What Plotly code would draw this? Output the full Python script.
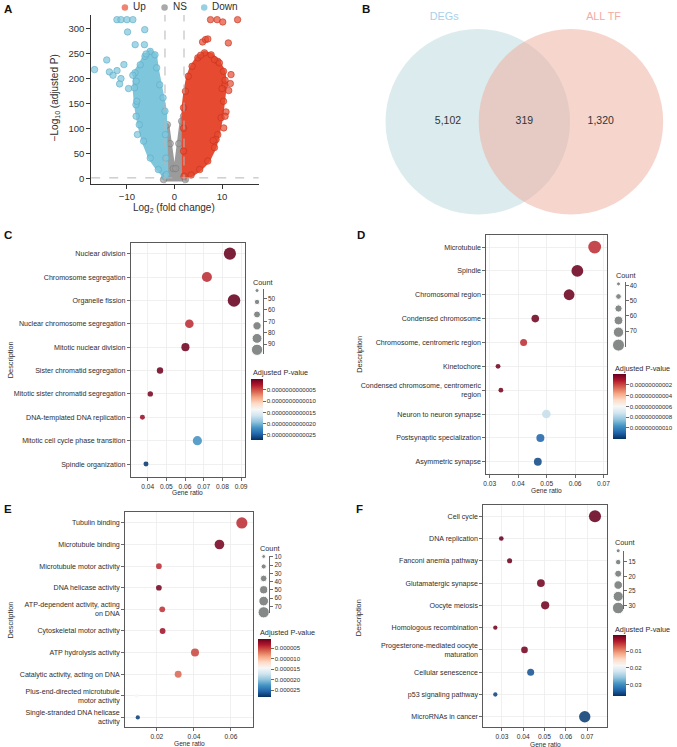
import math
import plotly.graph_objects as go

W, H = 677, 747
FONT = "Liberation Sans, Arial, Helvetica, sans-serif"
INK = "#2e2e2e"


def fx(p):
    return p / W


def fy(p):
    return 1 - p / H


# ---------------- Panel A : volcano (outline of the dense clouds + isolated genes) ----------------
fc_cut = 2
p_cut = 0.05

ns_env_x = [-2.3, -2.2, -1.9, -1.5, -0.9, -0.25, 0.25, 0.9, 1.5, 1.9, 2.2, 2.3]
ns_env_y = [-2, 50, 105, 108, 70, 20, 20, 70, 115, 125, 60, -2]

down_env_x = [-2.0, -3.4, -5.1, -6.5, -7.4, -8.1, -8.4, -8.3, -7.2, -6.2, -5.1, -4.1, -3.75, -3.1, -2.4, -2.0, -1.9, -1.8, -1.7]
down_env_y = [4.7, 18, 41, 75, 108, 148, 182, 212, 228, 245, 255, 248, 222, 188, 162, 135, 88, 41, 8]
down_pts_x = [-12.1, -11.25, -10.0, -8.75, -9.86, -6.25, -8.26, -6.32, -5.97, -14.24, -16.8, -13.68,
              -12.08, -12.92, -11.25, -11.53, -10.63, -9.65, -8.75, -8.06, -7.92, -8.06, -7.78]
down_pts_y = [318.6, 318.6, 318.6, 318.6, 293.9, 298.6, 268.5, 268.5, 249.8, 237.8, 218.4, 213.8,
              216.4, 207.1, 200.4, 189.7, 228.5, 180.4, 207.1, 195.1, 155, 124.9, 88.2]

up_env_x = [2.0, 1.9, 1.9, 1.9, 2.3, 2.9, 3.7, 4.9, 6.3, 7.7, 9.1, 10.3, 10.6, 10.3, 9.8, 9.1, 8.4, 7.0, 5.3, 3.5]
up_env_y = [4.7, 55, 101, 142, 175, 205, 225, 242, 252, 248, 235, 215, 188, 155, 122, 88, 62, 35, 18, 7]
up_pts_x = [7.57, 8.96, 13.26, 10.14, 5.90, 6.53, 7.01, 11.32, 5.49, 8.40, 9.44, 11.88, 10.63, 11.74,
            11.39, 10.0, 10.83, 10.63, 10.35, 8.75, 8.13]
up_pts_y = [318.6, 318.6, 318.6, 314, 273.9, 278.6, 279.9, 271.9, 247.2, 238.5, 231.8, 208.4, 197.1,
            190.4, 176.4, 180.4, 133.6, 124.9, 101.5, 78.2, 76.2]

volcano_groups = ["Up", "NS", "Down"]

# ---------------- Panel B : Venn ----------------
venn_sets = ["DEGs", "ALL TF"]
venn_counts = [5102, 319, 1320]   # only DEGs, both, only ALL TF

# ---------------- Panel C : GO BP ----------------
c_terms = ["Nuclear division", "Chromosome segregation", "Organelle fission",
           "Nuclear chromosome segregation", "Mitotic nuclear division", "Sister chromatid segregation",
           "Mitotic sister chromatid segregation", "DNA-templated DNA replication",
           "Mitotic cell cycle phase transition", "Spindle organization"]
c_ratio = [0.0840, 0.0717, 0.0862, 0.0623, 0.0602, 0.0466, 0.0414, 0.0372, 0.0666, 0.0391]
c_count = [101, 86, 104, 76, 72, 60, 53, 50, 80, 50]
c_padj = [2e-14, 3.6e-13, 2e-14, 3.6e-13, 5e-14, 5e-14, 8e-14, 2.0e-13, 2.18e-12, 2.67e-12]
c_cb_ticks = [5e-13, 1e-12, 1.5e-12, 2e-12, 2.5e-12]
c_cb_text = ["0.0000000000005", "0.0000000000010", "0.0000000000015", "0.0000000000020", "0.0000000000025"]
c_leg_counts = [43, 53, 64, 74, 85, 95]
c_leg_ticks = [50, 60, 70, 80, 90]

# ---------------- Panel D : GO CC ----------------
d_terms = ["Microtubule", "Spindle", "Chromosomal region", "Condensed chromosome",
           "Chromosome, centromeric region", "Kinetochore", "Condensed chromosome, centromeric<br>region",
           "Neuron to neuron synapse", "Postsynaptic specialization", "Asymmetric synapse"]
d_ratio = [0.0669, 0.0608, 0.0579, 0.0460, 0.0419, 0.0329, 0.0339, 0.0499, 0.0478, 0.0469]
d_count = [83, 78, 73, 57, 54, 43, 43, 62, 59, 58]
d_padj = [1.6e-11, 1e-12, 1e-12, 2e-12, 1.6e-11, 2e-12, 3e-12, 7.5e-11, 1.09e-10, 1.15e-10]
d_cb_ticks = [2e-11, 4e-11, 6e-11, 8e-11, 1e-10]
d_cb_text = ["0.00000000002", "0.00000000004", "0.00000000006", "0.00000000008", "0.00000000010"]
d_leg_counts = [38.9, 47.2, 55.1, 63.0, 70.7, 79.2]
d_leg_ticks = [40, 50, 60, 70]

# ---------------- Panel E : GO MF ----------------
e_terms = ["Tubulin binding", "Microtubule binding", "Microtubule motor activity", "DNA helicase activity",
           "ATP-dependent activity, acting<br>on DNA", "Cytoskeletal motor activity", "ATP hydrolysis activity",
           "Catalytic activity, acting on DNA", "Plus-end-directed microtubule<br>motor activity",
           "Single-stranded DNA helicase<br>activity"]
e_ratio = [0.0659, 0.0538, 0.0211, 0.0211, 0.0229, 0.0231, 0.0406, 0.0315, 0.0091, 0.0097]
e_count = [77, 63, 27, 27, 28, 28, 48, 38, 11, 14]
e_padj = [4.0e-6, 9.4e-7, 4.0e-6, 1e-6, 4.2e-6, 2.6e-6, 5.0e-6, 6.3e-6, 1.43e-5, 2.74e-5]
e_cb_ticks = [5e-6, 1e-5, 1.5e-5, 2e-5, 2.5e-5]
e_cb_text = ["0.000005", "0.000010", "0.000015", "0.000020", "0.000025"]
e_leg_counts = [9.6, 21.7, 36.2, 49.9, 63.6, 77.2]
e_leg_ticks = [10, 20, 30, 40, 50, 60, 70]

# ---------------- Panel F : KEGG ----------------
f_terms = ["Cell cycle", "DNA replication", "Fanconi anemia pathway", "Glutamatergic synapse", "Oocyte meiosis",
           "Homologous recombination", "Progesterone-mediated oocyte<br>maturation", "Cellular senescence",
           "p53 signaling pathway", "MicroRNAs in cancer"]
f_ratio = [0.0737, 0.0297, 0.0336, 0.0483, 0.0503, 0.0269, 0.0406, 0.0435, 0.0269, 0.0689]
f_count = [32, 13, 14, 21, 22, 12, 18, 19, 12, 30]
f_padj = [0.0005, 0.0006, 0.0008, 0.001, 0.001, 0.0008, 0.0012, 0.0345, 0.0355, 0.036]
f_cb_ticks = [0.01, 0.02, 0.03]
f_cb_text = ["0.01", "0.02", "0.03"]
f_leg_counts = [11.2, 15.1, 19.1, 23.0, 26.9, 30.9]
f_leg_ticks = [15, 20, 25, 30]

CS = [[0.0, "#053061"], [0.1, "#2166ac"], [0.2, "#4393c3"], [0.3, "#92c5de"], [0.4, "#d1e5f0"],
      [0.5, "#f7f7f7"], [0.6, "#fddbc7"], [0.7, "#f4a582"], [0.8, "#d6604d"], [0.9, "#b2182b"],
      [1.0, "#67001f"]]

fig = go.Figure()
layout = dict(width=W, height=H, margin=dict(l=0, r=0, t=0, b=0), paper_bgcolor="white",
              plot_bgcolor="white", showlegend=False, font=dict(family=FONT, color=INK))
annotations = []
shapes = []


def note(text, x, y, size, xanchor="center", angle=0, color=INK, bold=False):
    if bold:
        text = "<b>" + text + "</b>"
    annotations.append(dict(text=text, x=fx(x), y=fy(y), xref="paper", yref="paper", showarrow=False,
                            xanchor=xanchor, yanchor="middle", textangle=angle,
                            font=dict(size=size, color=color, family=FONT)))


# ----- Panel A -----
cloud_style = {
    "NS": ("rgb(155,155,155)", "rgba(155,155,155,0.65)", "rgba(120,120,120,0.8)"),
    "Down": ("rgb(126,198,220)", "rgba(126,198,220,0.7)", "rgba(95,170,198,0.85)"),
    "Up": ("rgb(230,74,48)", "rgba(230,74,48,0.7)", "rgba(196,50,30,0.85)"),
}
for name, ex, ey, px_, py_ in [("NS", ns_env_x, ns_env_y, [], []),
                               ("Down", down_env_x, down_env_y, down_pts_x, down_pts_y),
                               ("Up", up_env_x, up_env_y, up_pts_x, up_pts_y)]:
    fillc, mc, lc = cloud_style[name]
    fig.add_trace(go.Scatter(x=ex + [ex[0]], y=ey + [ey[0]], mode="lines", fill="toself", fillcolor=fillc,
                             line=dict(color=fillc, width=4), xaxis="x", yaxis="y", hoverinfo="skip"))
    fig.add_trace(go.Scatter(x=ex + px_, y=ey + py_, mode="markers", xaxis="x", yaxis="y",
                             marker=dict(size=6.5, color=mc, line=dict(color=lc, width=0.7)),
                             cliponaxis=False))

ythr = -math.log10(p_cut)
shapes += [
    dict(type="line", xref="x", yref="y domain", x0=-fc_cut, x1=-fc_cut, y0=0, y1=1,
         line=dict(color="#b5b5b5", width=1, dash="dash"), layer="above"),
    dict(type="line", xref="x", yref="y domain", x0=fc_cut, x1=fc_cut, y0=0, y1=1,
         line=dict(color="#b5b5b5", width=1, dash="dash"), layer="above"),
    dict(type="line", xref="x domain", yref="y", x0=0, x1=1, y0=ythr, y1=ythr,
         line=dict(color="#b5b5b5", width=1, dash="dash"), layer="above"),
]
layout["xaxis"] = dict(domain=[fx(89), fx(258)], range=[-17.5, 17.7], anchor="y", dtick=10, tick0=0,
                       showline=True, linecolor="#333", linewidth=1, ticks="outside", ticklen=4,
                       tickcolor="#333", showgrid=False, zeroline=False,
                       tickfont=dict(size=9.5, color=INK))
layout["yaxis"] = dict(domain=[fy(182), fy(13)], range=[-10, 328], anchor="x", dtick=50, tick0=0,
                       showline=True, linecolor="#333", linewidth=1, ticks="outside", ticklen=4,
                       tickcolor="#333", showgrid=False, zeroline=False,
                       tickfont=dict(size=9.5, color=INK))
note("−Log<sub>10</sub> (adjusted P)", 52, 96, 10, angle=-90)
note("Log<sub>2</sub> (fold change)", 173, 207, 10)

# volcano legend
leg_marker_x = [123, 163, 203]
leg_colors = ["rgba(236,110,88,0.85)", "rgba(160,160,160,0.9)", "rgba(140,203,224,0.9)"]
fig.add_trace(go.Scatter(x=leg_marker_x, y=[5.5] * 3, mode="markers", xaxis="x11", yaxis="y11",
                         marker=dict(size=6.5, color=leg_colors), cliponaxis=False))
layout["xaxis11"] = dict(domain=[fx(100), fx(240)], range=[100, 240], visible=False, anchor="y11")
layout["yaxis11"] = dict(domain=[fy(12), fy(0)], range=[12, 0], visible=False, anchor="x11")
for g, mx in zip(volcano_groups, leg_marker_x):
    note(g, mx + 6, 5, 10, xanchor="left")

# ----- Panel B -----
layout["xaxis2"] = dict(domain=[fx(360), 1], range=[-1.766, 1.606], visible=False, anchor="y2")
layout["yaxis2"] = dict(domain=[fy(235), 1], range=[-1.223, 1.277], visible=False, anchor="x2")
shapes += [
    dict(type="circle", xref="x2", yref="y2", x0=-1.49, x1=0.49, y0=-0.99, y1=0.99,
         fillcolor="rgba(186,216,220,0.5)", line=dict(width=0), layer="below"),
    dict(type="circle", xref="x2", yref="y2", x0=-0.49, x1=1.49, y0=-0.99, y1=0.99,
         fillcolor="rgba(238,172,156,0.5)", line=dict(width=0), layer="below"),
]
fig.add_trace(go.Scatter(x=[-0.82, 0.0, 0.82], y=[0, 0, 0], mode="text",
                         text=[f"{v:,}" for v in venn_counts], xaxis="x2", yaxis="y2",
                         textfont=dict(size=10.5, color="#333", family=FONT)))
fig.add_trace(go.Scatter(x=[-0.86, 0.85], y=[1.117, 1.117], mode="text", text=venn_sets,
                         xaxis="x2", yaxis="y2",
                         textfont=dict(size=10.8, color=["#a9d0ea", "#f4aba2"], family=FONT)))

# ----- Dot plots -----
panels = [
    dict(ax=3, lax=7, terms=c_terms, ratio=c_ratio, count=c_count, padj=c_padj,
         box=(129, 244, 242, 476), xr=[0.031, 0.092], dt=0.01, yr=[-0.542, 9.44],
         size=(43, 4.0, 0.14), cb=(250.7, 378, 439, 12.3, -2.72e-12, -1.1e-14), cbt=c_cb_ticks, cbx=c_cb_text,
         leg=(256.3, 262.3, 288, 353, 41.86, 98.75), lc=c_leg_counts, lt=c_leg_ticks,
         t_count=(250.7, 281), t_cb=(250.7, 371.5), t_desc=(7.3, 359), t_gene=(186, 491.5)),
    dict(ax=4, lax=8, terms=d_terms, ratio=d_ratio, count=d_count, padj=d_padj,
         box=(487.7, 609.3, 233.3, 473.3), xr=[0.0288, 0.0712], dt=0.01, yr=[-0.514, 9.518],
         size=(38.9, 4.0, 0.2), cb=(615.7, 373.3, 438.3, 12.6, -1.21e-10, -1e-13), cbt=d_cb_ticks, cbx=d_cb_text,
         leg=(621, 627.3, 281, 346, 37.83, 80.5), lc=d_leg_counts, lt=d_leg_ticks,
         t_count=(616, 274), t_cb=(615.7, 367.3), t_desc=(359, 353), t_gene=(548, 490)),
    dict(ax=5, lax=9, terms=e_terms, ratio=e_ratio, count=e_count, padj=e_padj,
         box=(123.3, 252, 511.7, 727.3), xr=[0.0029, 0.0718], dt=0.02, yr=[-0.46, 9.49],
         size=(9.6, 3.8, 0.11), cb=(257.7, 638.3, 696.7, 13, -2.82e-5, -3.8e-7), cbt=e_cb_ticks, cbx=e_cb_text,
         leg=(263, 268.7, 555, 613, 8.43, 78.45), lc=e_leg_counts, lt=e_leg_ticks,
         t_count=(257.7, 548.3), t_cb=(257.7, 632.3), t_desc=(7.3, 620), t_gene=(188, 743.3)),
    dict(ax=6, lax=10, terms=f_terms, ratio=f_ratio, count=f_count, padj=f_padj,
         box=(484.7, 609.3, 504, 727.3), xr=[0.0213, 0.0793], dt=0.01, yr=[-0.476, 9.52],
         size=(11.2, 4.0, 0.39), cb=(615.7, 635, 696, 13, -0.037, -0.0004), cbt=f_cb_ticks, cbx=f_cb_text,
         leg=(620.7, 626, 550, 608.5, 11.12, 31.2), lc=f_leg_counts, lt=f_leg_ticks,
         t_count=(615.3, 542.3), t_cb=(615.7, 629), t_desc=(359, 617), t_gene=(547, 744)),
]

for p in panels:
    a = p["ax"]
    xa, ya = f"x{a}", f"y{a}"
    c0, d0, k = p["size"]
    sizes = [d0 + k * (c - c0) for c in p["count"]]
    cbx, cbtop, cbbot, cbth, cmin, cmax = p["cb"]
    fig.add_trace(go.Scatter(
        x=p["ratio"], y=p["terms"], mode="markers", xaxis=xa, yaxis=ya, cliponaxis=False,
        marker=dict(size=sizes, color=[-v for v in p["padj"]], colorscale=CS, cmin=cmin, cmax=cmax,
                    opacity=0.88, line=dict(width=0),
                    colorbar=dict(x=fx(cbx), xanchor="left", xref="paper", y=fy((cbtop + cbbot) / 2),
                                  yanchor="middle", len=cbbot - cbtop, lenmode="pixels", thickness=cbth,
                                  thicknessmode="pixels", xpad=0, ypad=0, outlinewidth=0, ticks="outside",
                                  ticklen=3, tickwidth=0.8, tickcolor="#444",
                                  tickvals=[-v for v in p["cbt"]], ticktext=p["cbx"],
                                  tickfont=dict(size=6.1, color=INK, family=FONT)))))
    x0, x1, y0, y1 = p["box"]
    layout[f"xaxis{a}"] = dict(domain=[fx(x0), fx(x1)], range=p["xr"], anchor=ya, dtick=p["dt"], tick0=0,
                               showline=True, linecolor="#5a5a5a", linewidth=1, mirror=True,
                               ticks="outside", ticklen=3, tickwidth=0.8, tickcolor="#444",
                               showgrid=True, gridcolor="#ececec", gridwidth=0.8, zeroline=False,
                               tickfont=dict(size=6.6, color=INK))
    layout[f"yaxis{a}"] = dict(domain=[fy(y1), fy(y0)], range=p["yr"], anchor=xa, type="category",
                               categoryorder="array", categoryarray=p["terms"][::-1],
                               showline=True, linecolor="#5a5a5a", linewidth=1, mirror=True,
                               ticks="outside", ticklen=3, tickwidth=0.8, tickcolor="#444",
                               showgrid=True, gridcolor="#ececec", gridwidth=0.8, zeroline=False,
                               tickfont=dict(size=7.1, color=INK))
    # size legend
    la = p["lax"]
    ccx, lx, lt, lb, r0, r1 = p["leg"]
    fig.add_trace(go.Scatter(x=[0] * len(p["lc"]), y=p["lc"], mode="markers", xaxis=f"x{la}",
                             yaxis=f"y{la}", cliponaxis=False,
                             marker=dict(size=[d0 + k * (c - c0) for c in p["lc"]], color="#525a57")))
    half = lx - ccx
    layout[f"xaxis{la}"] = dict(domain=[fx(ccx - half), fx(lx)], range=[-1, 1], visible=False,
                                anchor=f"y{la}")
    layout[f"yaxis{la}"] = dict(domain=[fy(lb), fy(lt)], range=[r1, r0], anchor=f"x{la}", side="right",
                                showline=True, linecolor="#444", linewidth=0.8, ticks="outside",
                                ticklen=3, tickwidth=0.8, tickcolor="#444", tickvals=p["lt"],
                                showgrid=False, zeroline=False, tickfont=dict(size=6.4, color=INK))
    note("Count", p["t_count"][0], p["t_count"][1], 7.3, xanchor="left")
    note("Adjusted P-value", p["t_cb"][0], p["t_cb"][1], 7.3, xanchor="left")
    note("Description", p["t_desc"][0], p["t_desc"][1], 7.4, angle=-90)
    note("Gene ratio", p["t_gene"][0], p["t_gene"][1], 6.6)

# panel letters
for lab, x, y in [("A", 5, 7), ("B", 366, 7), ("C", 5, 234), ("D", 361, 234), ("E", 5, 508), ("F", 360, 508)]:
    note(lab, x, y, 11.5, bold=True, color="#111")

layout["annotations"] = annotations
layout["shapes"] = shapes
fig.update_layout(**layout)
fig.write_html("out.html", config={"displayModeBar": False, "staticPlot": True},
               post_script="document.body.style.margin='0';document.body.style.padding='0';"
                           "document.body.style.overflow='hidden';")
